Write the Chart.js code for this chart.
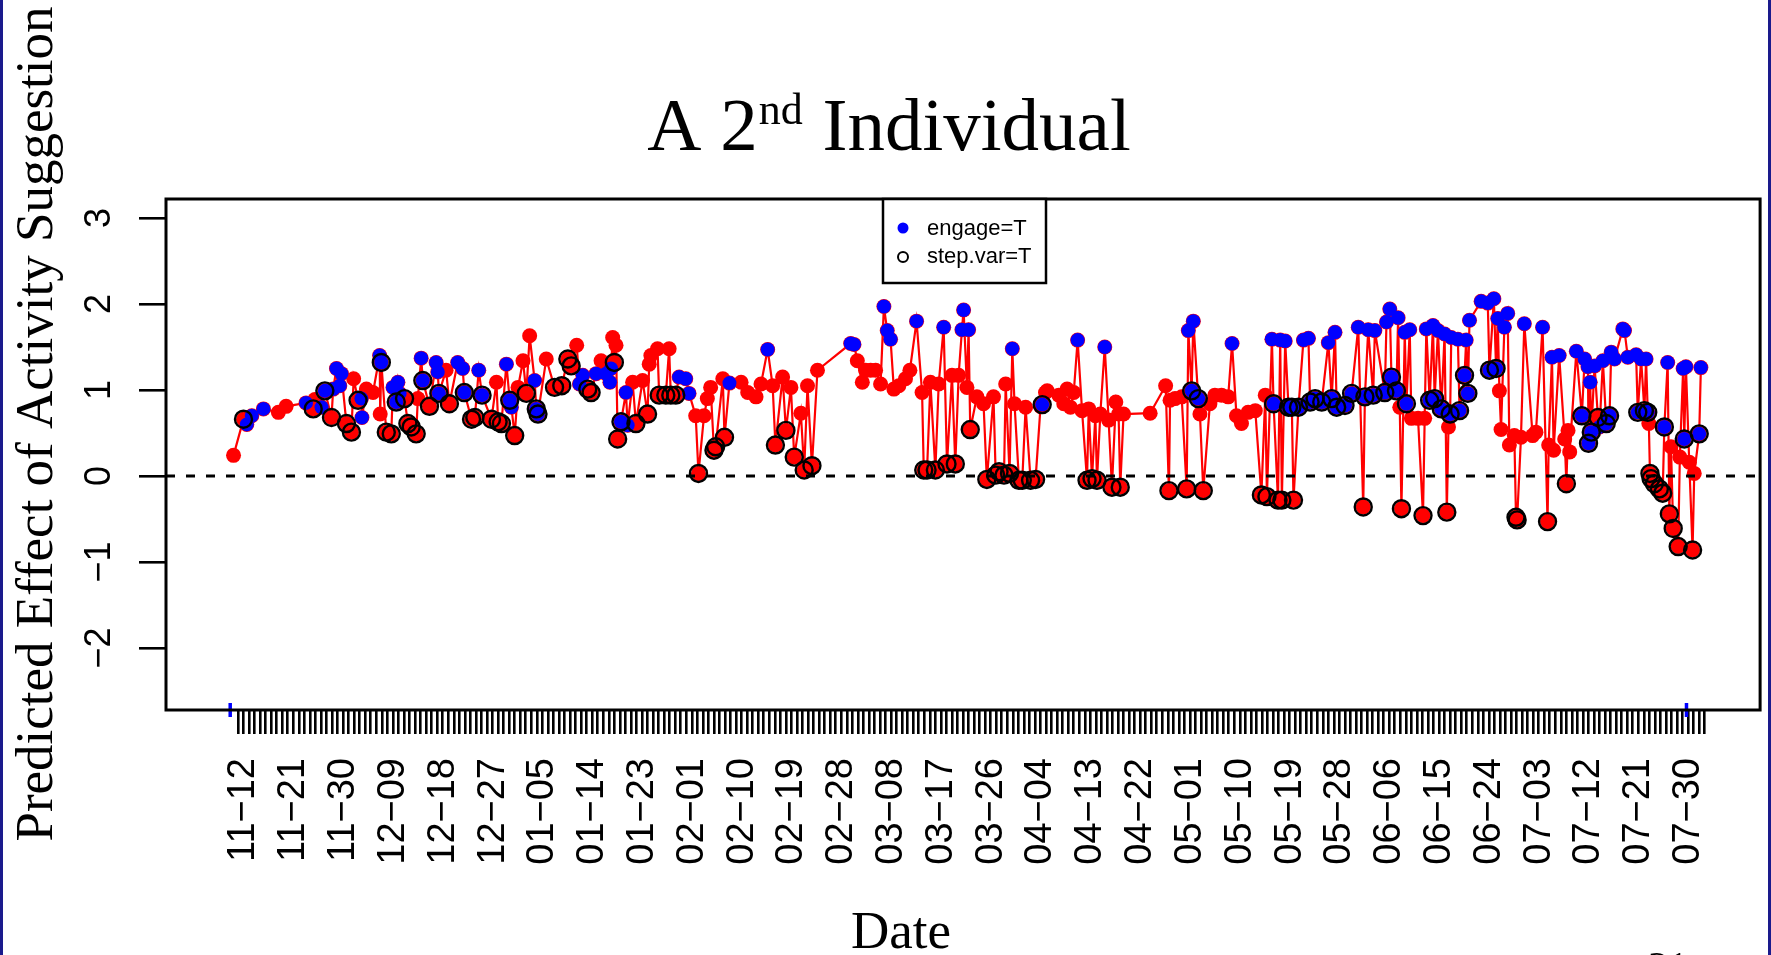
<!DOCTYPE html>
<html>
<head>
<meta charset="utf-8">
<title>A 2nd Individual</title>
<script src="https://cdn.jsdelivr.net/npm/chart.js@4.4.1/dist/chart.umd.min.js"></script>
<style>
  html, body { margin: 0; padding: 0; background: #fff; overflow: hidden; }
  canvas { display: block; }
</style>
</head>
<body>
<canvas id="chart" width="1771" height="955"></canvas>
<script>
// x = days since 11-12 (fraction = time of the decision point), y = predicted effect
const dayIndex = [
  -0.8, 1.0, 1.6, 2.5, 4.6, 7.3, 8.7, 12.3, 13.6, 13.9,
  15.1, 15.7, 16.9, 17.2, 17.8, 18.4, 18.7, 19.6, 20.5, 20.9,
  21.7, 22.3, 22.4, 23.2, 24.4, 25.6, 25.7, 25.9, 26.8, 27.7,
  28.0, 28.6, 28.9, 29.2, 30.1, 30.7, 31.3, 32.2, 32.5, 33.1,
  33.4, 34.6, 35.8, 36.1, 36.3, 37.6, 38.2, 39.7, 40.6, 40.9,
  42.2, 42.8, 43.5, 44.1, 45.8, 46.7, 47.0, 47.6, 48.5, 49.1,
  49.4, 50.0, 50.6, 51.5, 52.1, 52.7, 53.6, 53.9, 54.2, 55.7,
  57.2, 58.5, 59.6, 60.2, 61.2, 61.7, 62.3, 63.2, 63.8, 64.7,
  65.6, 66.5, 67.2, 67.4, 67.7, 68.0, 68.3, 68.6, 69.2, 70.1,
  70.4, 71.3, 71.9, 73.1, 74.0, 74.3, 74.6, 75.8, 76.1, 77.3,
  77.9, 78.2, 79.1, 79.7, 80.9, 81.5, 82.7, 83.2, 84.2, 84.8,
  85.4, 86.0, 86.3, 87.6, 87.9, 88.8, 90.9, 92.1, 93.6, 94.5,
  95.7, 96.6, 97.1, 98.4, 99.0, 99.9, 100.5, 101.7, 102.3, 102.9,
  103.7, 104.7, 110.7, 111.3, 111.9, 112.8, 113.4, 114.3, 115.2, 116.1,
  116.7, 117.3, 117.9, 118.5, 119.4, 120.6, 121.4, 122.6, 123.6, 123.9,
  124.5, 125.1, 126.0, 126.6, 127.5, 128.1, 129.0, 129.6, 130.2, 130.8,
  131.1, 131.7, 132.0, 132.3, 133.5, 134.7, 135.3, 136.5, 136.9, 137.5,
  138.4, 138.7, 139.4, 139.9, 140.3, 141.1, 141.7, 142.3, 143.2, 144.1,
  145.0, 145.3, 145.9, 146.2, 148.3, 149.2, 149.8, 150.4, 151.0, 151.7,
  152.5, 153.4, 153.7, 154.3, 154.9, 155.2, 155.8, 156.6, 157.3, 157.9,
  158.6, 159.1, 159.4, 160.0, 164.8, 167.6, 168.2, 168.4, 169.3, 170.5,
  171.4, 171.7, 172.3, 172.6, 173.5, 173.8, 174.4, 175.6, 176.5, 177.7,
  178.9, 179.6, 180.4, 181.3, 182.5, 183.8, 184.9, 185.6, 185.9, 186.8,
  187.1, 187.9, 188.3, 188.6, 189.2, 189.8, 190.4, 190.7, 191.6, 192.5,
  193.4, 193.7, 194.6, 195.8, 197.0, 197.6, 198.2, 198.5, 200.0, 201.2,
  202.4, 203.3, 203.6, 204.2, 205.1, 205.4, 207.2, 207.5, 208.1, 208.4,
  209.3, 209.6, 209.9, 210.2, 210.8, 211.1, 211.7, 212.0, 213.2, 214.1,
  214.4, 214.7, 215.3, 215.9, 216.2, 216.8, 217.4, 218.0, 218.4, 218.7,
  219.0, 219.2, 220.4, 220.7, 221.6, 221.9, 222.2, 222.5, 224.6, 225.8,
  226.1, 226.9, 227.3, 227.6, 227.9, 228.2, 228.8, 229.4, 229.7, 230.6,
  230.9, 231.1, 231.8, 232.4, 233.9, 234.5, 235.7, 236.6, 236.8, 237.4,
  237.7, 238.7, 239.7, 240.0, 240.3, 240.6, 241.8, 242.8, 243.3, 243.9,
  244.0, 244.3, 244.5, 245.1, 245.7, 246.0, 246.6, 247.2, 247.8, 248.1,
  248.7, 250.2, 250.5, 251.1, 252.6, 252.9, 253.5, 254.1, 254.4, 254.7,
  254.9, 255.1, 255.3, 255.9, 256.8, 257.4, 257.7, 258.3, 258.6, 258.9,
  259.3, 260.2, 260.5, 261.1, 261.3, 261.6, 262.2, 262.8, 263.1, 264.0, 264.3
];
const effect = [
  0.24, 0.66, 0.60, 0.70, 0.78, 0.74, 0.81, 0.85, 0.78, 0.89,
  0.80, 0.99, 0.68, 1.01, 1.25, 1.05, 1.19, 0.61, 0.51, 1.13,
  0.88, 0.90, 0.68, 1.01, 0.97, 1.40, 0.72, 1.32, 0.51, 0.49,
  1.03, 0.86, 1.09, 0.96, 0.90, 0.61, 0.57, 0.49, 0.90, 1.37,
  1.11, 0.81, 1.32, 1.21, 0.96, 1.23, 0.84, 1.32, 1.25, 0.97,
  0.66, 0.68, 1.23, 0.94, 0.66, 1.09, 0.63, 0.61, 1.30, 0.88,
  0.80, 0.47, 1.03, 1.34, 0.96, 1.63, 1.11, 0.78, 0.72, 1.36,
  1.03, 1.05, 1.36, 1.28, 1.52, 1.07, 1.17, 1.01, 0.97, 1.19,
  1.34, 1.19, 1.09, 1.25, 1.61, 1.32, 1.52, 0.43, 0.63, 0.97,
  0.59, 1.09, 0.61, 1.11, 0.72, 1.30, 1.40, 1.48, 0.94, 0.94,
  1.48, 0.94, 0.94, 1.15, 1.13, 0.96, 0.70, 0.03, 0.70, 0.90,
  1.03, 0.30, 0.34, 1.13, 0.45, 1.08, 1.09, 0.97, 0.92, 1.07,
  1.47, 1.05, 0.36, 1.15, 0.53, 1.03, 0.22, 0.73, 0.07, 1.05,
  0.12, 1.23, 1.54, 1.53, 1.34, 1.09, 1.23, 1.23, 1.23, 1.07,
  1.97, 1.69, 1.59, 1.01, 1.05, 1.13, 1.23, 1.80, 0.97, 0.07,
  0.07, 1.09, 0.07, 1.07, 1.73, 0.14, 1.17, 0.14, 1.17, 1.70,
  1.93, 1.03, 1.70, 0.54, 0.92, 0.84, -0.04, 0.92, 0.01, 0.05,
  0.01, 1.07, 0.03, 1.48, 0.84, -0.05, -0.05, 0.80, -0.05, -0.04,
  0.81, 0.83, 0.97, 0.99, 0.94, 0.84, 1.01, 0.80, 0.97, 1.58,
  0.76, -0.05, 0.78, -0.03, 0.70, -0.05, 0.72, 1.50, 0.65, -0.13,
  0.86, 0.72, -0.13, 0.72, 0.73, 1.05, -0.17, 0.88, 0.90, 0.92,
  -0.15, 1.69, 0.99, 1.80, 0.90, 0.72, -0.17, 0.84, 0.94, 0.94,
  0.92, 1.54, 0.70, 0.61, 0.74, 0.76, -0.22, 0.94, -0.24, 1.59,
  0.84, -0.28, 1.58, -0.28, 1.57, 0.80, 0.80, -0.28, 0.80, 1.58,
  1.60, 0.86, 0.90, 0.86, 1.55, 0.90, 1.67, 0.80, 0.82, 0.96,
  1.73, -0.36, 0.92, 1.70, 0.94, 1.69, 0.97, 1.79, 1.94, 1.15,
  0.99, 1.84, 0.80, -0.38, 1.67, 0.84, 1.70, 0.67, 0.67, -0.46,
  0.67, 1.71, 0.88, 1.75, 0.90, 1.69, 0.78, 1.65, -0.42, 0.57,
  0.72, 1.61, 1.59, 0.76, 1.17, 1.58, 0.96, 1.81, 2.03, 2.01,
  1.23, 2.06, 1.25, 1.83, 0.99, 0.54, 1.73, 1.89, 0.36, 0.47,
  -0.48, -0.51, 0.45, 1.77, 0.47, 0.51, 1.73, -0.53, 0.36, 1.38,
  0.30, 1.40, 0.43, -0.09, 0.53, 0.28, 1.45, 0.70, 1.36, 1.27,
  0.38, 1.09, 0.51, 1.28, 0.68, 0.57, 1.34, 0.61, 0.70, 1.44,
  1.36, 1.71, 1.69, 1.38, 1.41, 0.74, 1.36, 0.76, 1.36, 0.74,
  0.61, 0.03, -0.03, -0.09, -0.15, -0.20, 0.57, 1.32, -0.44, 0.34,
  -0.61, -0.82, 0.22, 1.25, 0.43, 1.27, 0.16, -0.86, 0.03, 0.49, 1.26
];
const engage = [
  0,0,1,1,1,0,0,1,0,0,  1,1,0,1,1,1,1,0,0,0,  0,1,1,0,0,1,0,1,0,0,  1,1,1,1,0,0,0,0,0,1,
  1,0,1,1,1,0,0,1,1,1,  0,0,1,1,0,0,0,0,1,1,  1,0,0,0,0,0,1,1,1,0,  0,0,0,0,0,1,1,0,0,1,
  0,1,1,1,0,0,0,0,1,1,  1,0,0,0,0,0,0,0,0,0,  0,0,0,1,1,1,0,0,0,0,  0,0,0,0,0,1,0,0,0,0,
  1,0,0,0,0,0,0,0,0,0,  0,0,1,1,0,0,0,0,0,0,  1,1,1,0,0,0,0,1,0,0,  0,0,0,0,1,0,0,0,0,1,
  1,0,1,0,0,0,0,0,0,0,  0,0,0,1,0,0,0,0,0,0,  0,1,0,0,0,0,0,0,0,1,  0,0,0,0,0,0,0,1,0,0,
  0,0,0,0,0,0,0,0,0,0,  0,1,1,1,1,0,0,0,0,0,  0,1,0,0,0,0,0,0,0,1,  1,0,1,0,1,1,1,0,1,1,
  1,1,1,1,1,1,1,1,1,1,  1,0,1,1,1,1,1,1,1,1,  1,1,0,0,1,1,1,0,0,0,  0,1,1,1,1,1,1,1,0,0,
  1,1,1,1,1,1,1,1,1,1,  1,1,1,1,0,0,1,1,0,0,  0,0,0,1,0,0,1,0,0,1,  0,1,0,0,0,0,1,1,1,1,
  1,1,1,1,0,1,1,1,1,1,  1,1,1,1,1,1,1,1,1,1,  0,0,0,0,0,0,1,1,0,0,  0,0,0,1,1,1,0,0,0,1,1
];
const stepVar = [
  0,1,0,0,0,0,0,0,1,0,  0,1,1,0,0,0,0,1,1,0,  1,0,0,0,0,0,0,1,1,1,  0,1,0,0,1,1,1,1,0,0,
  1,1,0,0,1,0,1,0,0,1,  1,1,0,1,1,0,1,1,0,1,  0,1,0,0,1,0,0,1,1,0,  1,1,1,1,0,0,0,1,1,0,
  0,0,0,0,0,1,0,1,1,0,  0,0,1,0,1,0,0,0,1,1,  0,1,1,0,0,0,0,1,0,0,  0,1,1,0,1,0,0,0,0,0,
  0,0,1,0,1,0,1,0,1,0,  1,0,0,0,0,0,0,0,0,0,  0,0,0,0,0,0,0,0,0,1,  1,0,1,0,0,1,0,1,0,0,
  0,0,0,1,0,0,1,0,1,1,  1,0,1,0,0,1,1,0,1,1,  0,1,0,0,0,0,0,0,0,0,  0,1,0,1,0,1,0,0,0,1,
  0,0,1,0,0,0,1,0,0,0,  1,0,1,0,1,0,1,0,0,0,  0,0,0,0,0,0,1,0,1,0,  1,1,0,1,0,1,1,1,1,0,
  0,1,1,1,0,1,0,1,1,1,  0,1,1,0,1,0,1,0,0,1,  1,0,0,1,0,1,0,0,0,1,  0,0,1,0,1,0,1,0,1,0,
  1,0,0,1,1,0,1,0,0,0,  1,0,1,0,0,0,0,0,0,0,  1,1,0,0,0,0,0,1,0,0,  0,0,0,1,0,0,0,1,0,0,
  1,0,1,0,1,0,0,1,1,0,  0,0,0,0,0,1,0,1,0,1,  0,1,1,1,1,1,1,0,1,0,  1,1,0,0,1,0,0,1,0,1,0
];
const dateLabels = [
  '11-12', '11-21', '11-30', '12-09', '12-18', '12-27', '01-05', '01-14', '01-23', '02-01',
  '02-10', '02-19', '02-28', '03-08', '03-17', '03-26', '04-04', '04-13', '04-22', '05-01',
  '05-10', '05-19', '05-28', '06-06', '06-15', '06-24', '07-03', '07-12', '07-21', '07-30'
];
const labelEvery = 9;       // one date label every 9 days
const tickDays = 266;       // one small tick per day
const yTicks = [-2, -1, 0, 1, 2, 3];
const blueMarks = [-1.4, 261.7];

const allPoints = dayIndex.map((d, i) => ({ x: d, y: effect[i] }));
const engagePoints = allPoints.filter((p, i) => engage[i] === 1);
const stepPoints = allPoints.filter((p, i) => stepVar[i] === 1);

const X_MIN = -13, X_MAX = 275, Y_MIN = -2.72, Y_MAX = 3.22;
const serif = '"Liberation Serif", "Times New Roman", serif';
const sans = '"Liberation Sans", Arial, sans-serif';
const minus = s => String(s).replace('-', '\u2212');

const decor = {
    id: 'decor',
    afterDraw(chart) {
        const ctx = chart.ctx;
        const a = chart.chartArea;
        ctx.save();
        ctx.fillStyle = '#000';
        ctx.strokeStyle = '#000';

        // plot frame
        ctx.lineWidth = 3;
        ctx.strokeRect(a.left, a.top, a.right - a.left, a.bottom - a.top);

        // title with superscript
        const big = '75px ' + serif, small = '44px ' + serif;
        ctx.textAlign = 'left';
        ctx.textBaseline = 'alphabetic';
        ctx.font = big;
        const w1 = ctx.measureText('A 2').width;
        const w3 = ctx.measureText(' Individual').width;
        ctx.font = small;
        const w2 = ctx.measureText('nd').width;
        let x = 888 - (w1 + w2 + w3) / 2;
        ctx.font = big;
        ctx.fillText('A 2', x, 150);
        x += w1 + 1;
        ctx.font = small;
        ctx.fillText('nd', x, 124);
        x += w2 + 1;
        ctx.font = big;
        ctx.fillText(' Individual', x, 150);

        // axis titles
        ctx.font = '53px ' + serif;
        ctx.textAlign = 'center';
        ctx.fillText('Date', 901, 948);
        ctx.save();
        ctx.translate(52, 424);
        ctx.rotate(-Math.PI / 2);
        ctx.fillText('Predicted Effect of Activity Suggestion', 0, 0);
        ctx.restore();

        // legend box
        ctx.fillStyle = '#fff';
        ctx.fillRect(883, 199, 163, 84);
        ctx.lineWidth = 2.5;
        ctx.strokeRect(883, 199, 163, 84);
        ctx.fillStyle = '#0000ff';
        ctx.beginPath();
        ctx.arc(903, 228, 5.5, 0, Math.PI * 2);
        ctx.fill();
        ctx.lineWidth = 2;
        ctx.beginPath();
        ctx.arc(903, 257, 5, 0, Math.PI * 2);
        ctx.stroke();
        ctx.fillStyle = '#000';
        ctx.font = '22px ' + sans;
        ctx.textAlign = 'left';
        ctx.textBaseline = 'middle';
        ctx.fillText(chart.data.datasets[2].label, 927, 229);
        ctx.fillText(chart.data.datasets[1].label, 927, 257);

        // slide frame and page number
        ctx.fillStyle = '#1a1a8c';
        ctx.fillRect(0, 0, 3, chart.height);
        ctx.fillRect(chart.width - 3, 0, 3, chart.height);
        ctx.fillStyle = '#000';
        ctx.font = '40px ' + serif;
        ctx.textAlign = 'center';
        ctx.textBaseline = 'alphabetic';
        ctx.fillText('31', 1668, 979);
        ctx.restore();
    }
};

new Chart(document.getElementById('chart'), {
    type: 'scatter',
    data: {
        datasets: [
            {
                label: 'zero',
                data: [{ x: X_MIN, y: 0 }, { x: X_MAX, y: 0 }],
                showLine: true,
                borderColor: '#000',
                borderWidth: 3,
                borderDash: [9, 11],
                pointRadius: 0,
                order: 0
            },
            {
                label: 'step.var=T',
                data: stepPoints,
                pointRadius: 8.5,
                pointBorderWidth: 2.4,
                pointBorderColor: '#000',
                pointBackgroundColor: 'rgba(0,0,0,0)',
                order: 1
            },
            {
                label: 'engage=T',
                data: engagePoints,
                pointRadius: 7,
                pointBorderWidth: 0,
                pointBackgroundColor: '#0000ff',
                order: 2
            },
            {
                label: 'effect',
                data: allPoints,
                showLine: true,
                borderColor: '#ff0000',
                borderWidth: 2.2,
                pointRadius: 7.5,
                pointBorderWidth: 0,
                pointBackgroundColor: '#ff0000',
                order: 3
            },
            {
                label: 'marks',
                data: blueMarks.map(d => ({ x: d, y: Y_MIN })),
                pointStyle: 'line',
                rotation: 90,
                pointRadius: 7,
                pointBorderWidth: 3.5,
                pointBorderColor: '#0000ff',
                clip: false,
                order: 4
            }
        ]
    },
    options: {
        responsive: false,
        devicePixelRatio: 1,
        animation: false,
        events: [],
        layout: { padding: { top: 199, right: 7, left: 0, bottom: 0 } },
        plugins: { legend: { display: false }, tooltip: { enabled: false } },
        scales: {
            x: {
                type: 'linear',
                min: X_MIN,
                max: X_MAX,
                afterBuildTicks: axis => {
                    axis.ticks = Array.from({ length: tickDays }, (_, i) => ({ value: i }));
                },
                afterFit: axis => {
                    axis.height = 245;
                    axis.paddingLeft = 0;
                    axis.paddingRight = 0;
                },
                border: { display: false },
                grid: { drawOnChartArea: false, drawTicks: true, tickLength: 24, lineWidth: 2.6, color: '#000' },
                ticks: {
                    autoSkip: false,
                    minRotation: 90,
                    maxRotation: 90,
                    padding: 24,
                    labelOffset: 6,
                    color: '#000',
                    font: { family: sans, size: 38 },
                    callback: v => {
                        const k = v / labelEvery;
                        return Number.isInteger(k) && k < dateLabels.length ? minus(dateLabels[k]) : '';
                    }
                }
            },
            y: {
                type: 'linear',
                min: Y_MIN,
                max: Y_MAX,
                afterBuildTicks: axis => {
                    axis.ticks = yTicks.map(v => ({ value: v }));
                },
                afterFit: axis => {
                    axis.width = 166;
                    axis.paddingTop = 0;
                    axis.paddingBottom = 0;
                },
                border: { display: false },
                grid: { drawOnChartArea: false, drawTicks: true, tickLength: 27, lineWidth: 2.6, color: '#000' },
                ticks: {
                    minRotation: 90,
                    maxRotation: 90,
                    crossAlign: 'center',
                    padding: 18,
                    color: '#000',
                    font: { family: sans, size: 36 },
                    callback: v => minus(v)
                }
            }
        }
    },
    plugins: [decor]
});
</script>
</body>
</html>
